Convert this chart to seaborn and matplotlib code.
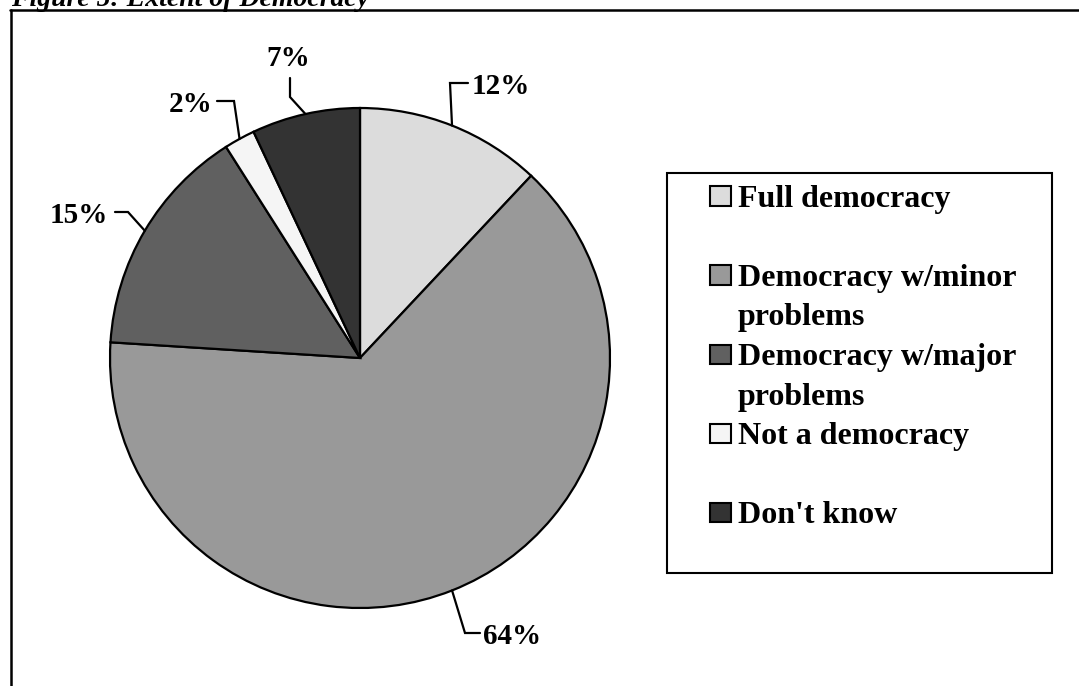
import matplotlib
matplotlib.use("Agg")
import numpy as np
import matplotlib.pyplot as plt
from matplotlib.lines import Line2D
from matplotlib.patches import Rectangle
import seaborn as sns

# data
categories = ["Full democracy", "Democracy w/minor\nproblems", "Democracy w/major\nproblems",
              "Not a democracy", "Don't know"]
shares = [12, 64, 15, 2, 7]
pct_labels = ["12%", "64%", "15%", "2%", "7%"]
colors = ["#DCDCDC", "#999999", "#606060", "#F5F5F5", "#333333"]

# leader line layout (data units, pie radius = 1): knee, end, text anchor
knees = [(0.36, 1.10), (0.42, -1.10), (-0.928, 0.584), (-0.504, 1.028), (-0.28, 1.044)]
ends = [(0.432, 1.10), (0.48, -1.10), (-0.98, 0.584), (-0.572, 1.028), (-0.28, 1.12)]
text_pos = [(0.448, 1.10, "left"), (0.492, -1.10, "left"), (-1.008, 0.584, "right"),
            (-0.592, 1.028, "right"), (-0.288, 1.21, "center")]

sns.set_theme(style="white")
plt.rcParams["font.family"] = ["Liberation Serif", "DejaVu Serif"]
plt.rcParams["font.weight"] = "bold"

W, H = 1079, 686
fig = plt.figure(figsize=(W / 100, H / 100), dpi=100)
fig.patch.set_facecolor("white")

# pie axes: centre (360, 358) px, radius 250 px
ax = fig.add_axes([110 / W, (H - 608) / H, 500 / W, 500 / H])
ax.axis("off")

wedges, _ = ax.pie(shares, colors=colors, startangle=90, counterclock=False, radius=1,
                   wedgeprops=dict(edgecolor="black", linewidth=1.6))
ax.set_xlim(-1, 1)
ax.set_ylim(-1, 1)
for w in wedges:
    w.set_clip_on(False)

for w, lab, kn, en, tp in zip(wedges, pct_labels, knees, ends, text_pos):
    mid = np.deg2rad((w.theta1 + w.theta2) / 2)
    ex, ey = np.cos(mid), np.sin(mid)
    ax.plot([ex, kn[0], en[0]], [ey, kn[1], en[1]], color="black", lw=1.6,
            clip_on=False, solid_joinstyle="miter")
    ax.text(tp[0], tp[1], lab, ha=tp[2], va="center_baseline", fontsize=21,
            fontweight="bold", color="black")

# title (cut off at the top in the original)
fig.text(11 / W, 1 - 6 / H, "Figure 5: Extent of Democracy", ha="left", va="baseline",
         fontsize=20, fontweight="bold", fontstyle="italic", color="black")

# outer frame (top and left edges visible)
fig.add_artist(Line2D([10 / W, 1.0], [1 - 9.5 / H, 1 - 9.5 / H], transform=fig.transFigure,
                      color="black", lw=1.8))
fig.add_artist(Line2D([11 / W, 11 / W], [0, 1 - 9.5 / H], transform=fig.transFigure,
                      color="black", lw=1.8))

# legend box
fig.add_artist(Rectangle((667 / W, (H - 573) / H), (1052 - 667) / W, 400 / H,
                         transform=fig.transFigure, facecolor="white", edgecolor="black",
                         lw=1.5))
line_h = 39.5
slots = [0, 2, 4, 6, 8]
for cat, col, s in zip(categories, colors, slots):
    yc = 196 + s * line_h
    fig.add_artist(Rectangle((710 / W, (H - yc - 9.5) / H), 21 / W, 19 / H,
                             transform=fig.transFigure, facecolor=col, edgecolor="black",
                             lw=1.5))
    for i, part in enumerate(cat.split("\n")):
        fig.text(738 / W, (H - yc - i * line_h) / H, part, ha="left", va="center_baseline",
                 fontsize=23, fontweight="bold", color="black")

fig.savefig("out.png", dpi=100)
